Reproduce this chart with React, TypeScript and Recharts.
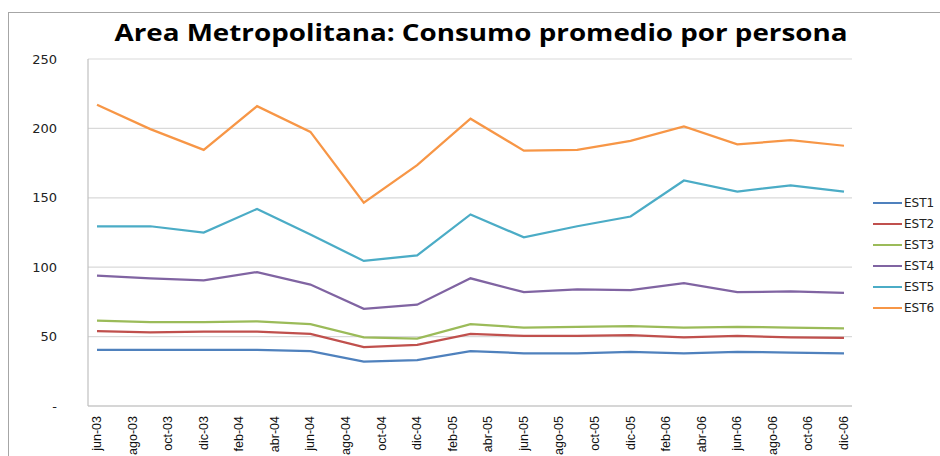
import { LineChart, Line, XAxis, YAxis, CartesianGrid, Legend } from 'recharts';

// meses desde jun-03 (datos trimestrales)
const months = [0, 3, 6, 9, 12, 15, 18, 21, 24, 27, 30, 33, 36, 39, 42];

const tickLabels = [
  'jun-03', 'ago-03', 'oct-03', 'dic-03', 'feb-04', 'abr-04', 'jun-04', 'ago-04',
  'oct-04', 'dic-04', 'feb-05', 'abr-05', 'jun-05', 'ago-05', 'oct-05', 'dic-05',
  'feb-06', 'abr-06', 'jun-06', 'ago-06', 'oct-06', 'dic-06',
];

const est1 = [40.5, 40.5, 40.5, 40.5, 39.5, 32, 33, 39.5, 38, 38, 39, 38, 39, 38.5, 38];
const est2 = [54, 53, 53.5, 53.5, 52, 42.5, 44, 52, 50.5, 50.5, 51, 49.5, 50.5, 49.5, 49];
const est3 = [61.5, 60.5, 60.5, 61, 59, 49.5, 48.5, 59, 56.5, 57, 57.5, 56.5, 57, 56.5, 56];
const est4 = [94, 92, 90.5, 96.5, 87.5, 70, 73, 92, 82, 84, 83.5, 88.5, 82, 82.5, 81.5];
const est5 = [129.5, 129.5, 125, 142, 123.5, 104.5, 108.5, 138, 121.5, 129.5, 136.5, 162.5, 154.5, 159, 154.5];
const est6 = [217, 199.5, 184.5, 216, 197.5, 146.5, 173.5, 207, 184, 184.5, 191, 201.5, 188.5, 191.5, 187.5];

const yTicks = [0, 50, 100, 150, 200, 250];

const series = [
  { key: 'EST1', values: est1, color: '#4F81BD' },
  { key: 'EST2', values: est2, color: '#C0504D' },
  { key: 'EST3', values: est3, color: '#9BBB59' },
  { key: 'EST4', values: est4, color: '#8064A2' },
  { key: 'EST5', values: est5, color: '#4BACC6' },
  { key: 'EST6', values: est6, color: '#F79646' },
];

const data = months.map((m, i) => {
  const row: { [k: string]: number } = { m };
  series.forEach((s) => {
    row[s.key] = s.values[i];
  });
  return row;
});

const xTicks = tickLabels.map((_, i) => i * 2);

function MonthTick(props: any) {
  const { x, y, payload } = props;
  return (
    <text
      x={x}
      y={y}
      dy={4}
      transform={`rotate(-90, ${x}, ${y})`}
      textAnchor="end"
      fontSize={12.5}
      fontFamily="'Liberation Sans Narrow', 'Liberation Sans', sans-serif"
      fill="#111"
    >
      {tickLabels[payload.value / 2]}
    </text>
  );
}

function LegendBox(props: any) {
  return (
    <div style={{ fontFamily: "'DejaVu Sans', sans-serif", fontSize: 12, color: '#222' }}>
      {props.payload.map((e: any) => (
        <div key={e.value} style={{ display: 'flex', alignItems: 'center', height: 21 }}>
          <span style={{ width: 29, borderTop: `2.5px solid ${e.color}`, marginRight: 2 }} />
          <span>{e.value}</span>
        </div>
      ))}
    </div>
  );
}

export default function App() {
  return (
    <div style={{ position: 'absolute', left: 0, top: 0, width: 940, height: 456, background: '#fff' }}>
      <div
        style={{
          position: 'absolute',
          left: 8,
          top: 12,
          right: 0,
          bottom: 0,
          borderLeft: '1.5px solid #a6a6a6',
          borderTop: '1.5px solid #a6a6a6',
        }}
      />
      <svg width={940} height={60} style={{ position: 'absolute', left: 0, top: 0 }}>
        <text
          x={481}
          y={41}
          textAnchor="middle"
          textLength={733}
          lengthAdjust="spacingAndGlyphs"
          fontFamily="'Open Sans', sans-serif"
          fontWeight="bold"
          fontSize={23}
          fill="#000"
        >
          Area Metropolitana: Consumo promedio por persona
        </text>
      </svg>
      <LineChart
        width={940}
        height={456}
        data={data}
        margin={{ top: 59, right: 88, bottom: 0, left: 0 }}
        style={{ position: 'absolute', left: 0, top: 0 }}
      >
        <CartesianGrid vertical={false} stroke="#d9d9d9" strokeWidth={1.2} />
        <XAxis
          dataKey="m"
          type="number"
          domain={[0, 42]}
          ticks={xTicks}
          interval={0}
          padding={{ left: 9, right: 8 }}
          height={50}
          tickLine={false}
          tickSize={0}
          tickMargin={10}
          axisLine={{ stroke: '#c0c0c0', strokeWidth: 1.2 }}
          tick={<MonthTick />}
        />
        <YAxis
          type="number"
          domain={[0, 250]}
          ticks={yTicks}
          width={88}
          tickLine={false}
          tickSize={0}
          tickMargin={31}
          axisLine={{ stroke: '#c0c0c0', strokeWidth: 1.2 }}
          tickFormatter={(v: number) => (v === 0 ? '-' : String(v))}
          tick={{ fontSize: 13, fontFamily: "'DejaVu Sans', sans-serif", fill: '#222' }}
        />
        <Legend
          layout="vertical"
          align="center"
          verticalAlign="middle"
          content={<LegendBox />}
          wrapperStyle={{ left: 873, top: 192, width: 70 }}
        />
        {series.map((s) => (
          <Line
            key={s.key}
            dataKey={s.key}
            name={s.key}
            stroke={s.color}
            strokeWidth={2.25}
            dot={false}
            activeDot={false}
            type="linear"
            isAnimationActive={false}
          />
        ))}
      </LineChart>
    </div>
  );
}
